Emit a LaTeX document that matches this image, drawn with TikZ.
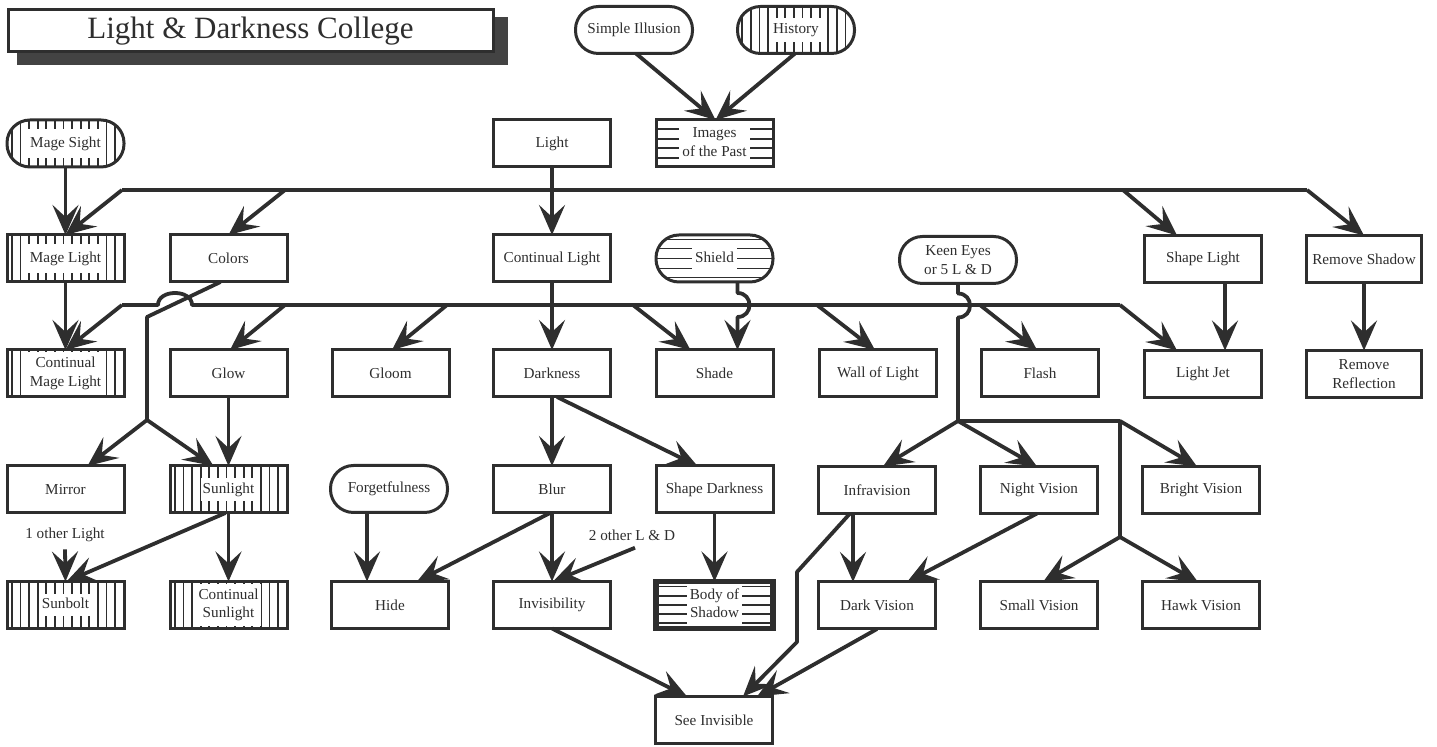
\documentclass[tikz,border=0pt]{standalone}
\usepackage{fontspec}
\setmainfont{Liberation Serif}
\usetikzlibrary{arrows.meta,calc}
\definecolor{ink}{HTML}{2E2E2E}
\newcommand\boxfont{\fontsize{7.6}{9.2}\selectfont}
\newcommand\wb[2][2pt]{{\setlength{\fboxsep}{#1}\colorbox{white}{\begin{tabular}{@{}c@{}}#2\end{tabular}}}}
\begin{document}
\begin{tikzpicture}[x=0.5pt,y=-0.5pt,
  box/.style={draw=ink, line width=1.5pt, minimum width=58.5pt, minimum height=23.5pt,
    inner sep=1pt, outer sep=0pt, align=center, font=\boxfont, text=ink},
  pill/.style={box, rounded corners=11.5pt},
  vhatch/.style={path picture={
    \foreach \k in {0,...,14} {\draw[ink, line width=0.9pt]
      ([xshift=2.4pt+\k*4.3pt]path picture bounding box.south west) --
      ([xshift=2.4pt+\k*4.3pt]path picture bounding box.north west);}}},
  hhatch/.style={path picture={
    \foreach \k in {#1} {\draw[ink, line width=0.9pt]
      ([yshift=\k]path picture bounding box.west) --
      ([yshift=\k]path picture bounding box.east);}}},
  conn/.style={draw=ink, line width=1.9pt, line join=round},
  arr/.style={conn, -{Stealth[length=15pt,width=13pt,inset=6pt]}},
  lbl/.style={font=\boxfont, text=ink, inner sep=1pt}
]
\useasboundingbox (0,0) rectangle (1437,747);

% title
\fill[ink!90] (17,17) rectangle (508,65);
\node[draw=ink, fill=white, line width=1.5pt, minimum width=242.5pt, minimum height=21pt,
  outer sep=0pt, font=\fontsize{15.5}{18}\selectfont, text=ink] (title) at (250.5,31)
  {Light \& Darkness College};

% row A
\node[pill] (simple) at (634,30) {Simple Illusion};
\node[pill, vhatch] (history) at (796,30) {\wb[1.5pt]{History}};
% row B
\node[pill, vhatch] (mageSight) at (65.5,143.5) {\wb[2.5pt]{Mage Sight}};
\node[box] (light) at (552,143.5) {Light};
\node[box, hhatch={-7.3pt,-2.4pt,2.4pt,7.3pt}] (images) at (714.5,143.5) {\wb[1.5pt]{Images\\of the Past}};
% row C
\node[box, vhatch] (mageLight) at (65.5,258.5) {\wb[2.5pt]{Mage Light}};
\node[box] (colors) at (228.5,258.5) {Colors};
\node[box] (contLight) at (552,258.5) {Continual Light};
\node[pill, hhatch={-9.5pt,-5pt,0pt,5pt,9.5pt}] (shield) at (714.5,258.5) {\wb[1.5pt]{Shield}};
\node[pill] (keen) at (958,260) {Keen Eyes\\or 5 L \& D};
\node[box] (shapeLight) at (1203,259) {Shape Light};
\node[box, minimum width=57.5pt] (removeShadow) at (1364,259) {Remove Shadow};
% row D
\node[box, vhatch] (contMage) at (65.5,373.5) {\wb[1.5pt]{Continual\\Mage Light}};
\node[box] (glow) at (228.5,373.5) {Glow};
\node[box] (gloom) at (390.5,373.5) {Gloom};
\node[box] (darkness) at (552,373.5) {Darkness};
\node[box] (shade) at (714.5,373.5) {Shade};
\node[box] (wall) at (878,373.5) {Wall of Light};
\node[box] (flash) at (1040,373.5) {Flash};
\node[box] (lightJet) at (1203,374) {Light Jet};
\node[box, minimum width=57.5pt] (removeRefl) at (1364,374) {Remove\\Reflection};
% row E
\node[box] (mirror) at (65.5,489.5) {Mirror};
\node[box, vhatch] (sunlight) at (228.5,489.5) {\wb[1pt]{Sunlight}};
\node[pill] (forget) at (389,489) {Forgetfulness};
\node[box] (blur) at (552,489.5) {Blur};
\node[box] (shapeDark) at (714.5,489.5) {Shape Darkness};
\node[box] (infra) at (877,490) {Infravision};
\node[box] (night) at (1039,490) {Night Vision};
\node[box] (bright) at (1201,490) {Bright Vision};
% row F
\node[box, vhatch] (sunbolt) at (65.5,605) {\wb[1pt]{Sunbolt}};
\node[box, vhatch] (contSun) at (228.5,605) {\wb[1.5pt]{Continual\\Sunlight}};
\node[box] (hide) at (390,605) {Hide};
\node[box] (invis) at (552,605) {Invisibility};
\node[box, line width=2.6pt, hhatch={-9.2pt,-4.6pt,0pt,4.6pt,9.2pt}] (body) at (714.5,605) {\wb[1.5pt]{Body of\\Shadow}};
\node[box] (darkV) at (877,605.5) {Dark Vision};
\node[box] (smallV) at (1039,605.5) {Small Vision};
\node[box] (hawk) at (1201,605.5) {Hawk Vision};
% row G
\node[box] (seeInv) at (714,720) {See Invisible};

% labels
\node[lbl] (label1) at (65,535) {1 other Light};
\node[lbl] (label2) at (632,535) {2 other L \& D};

% top arrows
\draw[arr] ($(simple.south)+(2,0)$) -- ($(images.north)+(1,0)$);
\draw[arr] ($(history.south)+(-1,0)$) -- ($(images.north)+(1,0)$);
\draw[arr] (mageSight.south) -- (mageLight.north);
\draw[arr] (mageLight.south) -- (contMage.north);

% bus 1
\coordinate (b1L) at (122,190);
\coordinate (b1C) at (285,190);
\coordinate (b1S) at (1123,190);
\coordinate (b1R) at (1307,190);
\draw[conn] (b1L) -- (b1R);
\draw[arr] (b1L) -- (mageLight.north);
\draw[arr] (b1C) -- (colors.north);
\draw[arr] (light.south) -- (contLight.north);
\draw[arr] (b1S) -- ($(shapeLight.north)+(-26,0)$);
\draw[arr] (b1R) -- (removeShadow.north);

% bus 2
\coordinate (b2L) at (122,305);
\coordinate (hopA) at (158,305);
\coordinate (hopB) at (192,305);
\coordinate (b2G) at (285,305);
\coordinate (b2Gl) at (447,305);
\coordinate (b2Sh) at (633,305);
\coordinate (b2W) at (817,305);
\coordinate (b2F) at (980,305);
\coordinate (b2R) at (1120,305);
\draw[conn] (b2L) -- (hopA) .. controls +(0,-16) and +(0,-16) .. (hopB) -- (b2R);
\draw[arr] (b2L) -- (contMage.north);
\draw[arr] (b2G) -- ($(glow.north)+(1.5,0)$);
\draw[arr] (b2Gl) -- ($(gloom.north)+(1.5,0)$);
\draw[arr] (contLight.south) -- (darkness.north);
\draw[arr] (b2Sh) -- ($(shade.north)+(-24,0)$);
\draw[arr] (b2W) -- ($(wall.north)+(-3,0)$);
\draw[arr] (b2F) -- ($(flash.north)+(-3,0)$);
\draw[arr] (b2R) -- ($(lightJet.north)+(-26,0)$);

% colors line
\coordinate (cA) at (147,317);
\coordinate (cSplit) at (147,420);
\draw[conn] ($(colors.south)+(-8,0)$) -- (cA) -- (cSplit);
\draw[arr] (cSplit) -- ($(mirror.north)+(22,0)$);
\draw[arr] (cSplit) -- ($(sunlight.north)+(-15,0)$);
\draw[arr] (glow.south) -- (sunlight.north);

% shield line with hop
\draw[arr] ($(shield.south)+(23,0)$) -- ++(0,11) .. controls +(16,0) and +(16,0) .. ++(0,24)
  -- ($(shade.north)+(23,0)$);

% keen eyes
\coordinate (kSplit) at (958,421);
\coordinate (kR) at (1120,421);
\coordinate (kLow) at (1120,537);
\draw[conn] (keen.south) -- ++(0,10) .. controls +(16,0) and +(16,0) .. ++(0,24) -- (kSplit) -- (kR) -- (kLow);
\draw[arr] (kSplit) -- ($(infra.north)+(6,0)$);
\draw[arr] (kSplit) -- ($(night.north)+(-2,0)$);
\draw[arr] (kR) -- ($(bright.north)+(-4,0)$);
\draw[arr] (kLow) -- ($(smallV.north)+(4,0)$);
\draw[arr] (kLow) -- ($(hawk.north)+(-3,0)$);

% shape light / remove shadow
\draw[arr] ($(shapeLight.south)+(22,0)$) -- ($(lightJet.north)+(22,0)$);
\draw[arr] (removeShadow.south) -- (removeRefl.north);

% darkness
\draw[arr] (darkness.south) -- (blur.north);
\draw[arr] ($(darkness.south)+(5,0)$) -- ($(shapeDark.north)+(-17,0)$);
\draw[arr] ($(blur.south)+(-2,0)$) -- ($(hide.north)+(27,0)$);
\draw[arr] (blur.south) -- (invis.north);
\draw[arr] ($(label2.south)+(3,5)$) -- ($(invis.north)+(1,0)$);
\draw[arr] ($(forget.south)+(-22,0)$) -- ($(hide.north)+(-23,0)$);
\draw[arr] (shapeDark.south) -- (body.north);

% sunlight
\draw[arr] ($(sunlight.south)+(-3,0)$) -- ($(sunbolt.north)+(1,0)$);
\draw[arr] ($(label1.south)+(0,5)$) -- (sunbolt.north);
\draw[arr] (sunlight.south) -- (contSun.north);

% visions
\coordinate (iA) at (797,572);
\coordinate (iB) at (797,642);
\draw[arr] ($(infra.south)+(-24,0)$) -- ($(darkV.north)+(-24,0)$);
\draw[arr] ($(infra.south)+(-27,0)$) -- (iA) -- (iB) -- ($(seeInv.north)+(29,0)$);
\draw[arr] ($(night.south)+(-2,0)$) -- ($(darkV.north)+(30,0)$);
\draw[arr] (darkV.south) -- ($(seeInv.north)+(43,0)$);
\draw[arr] (invis.south) -- ($(seeInv.north)+(-27,0)$);
\end{tikzpicture}
\end{document}
